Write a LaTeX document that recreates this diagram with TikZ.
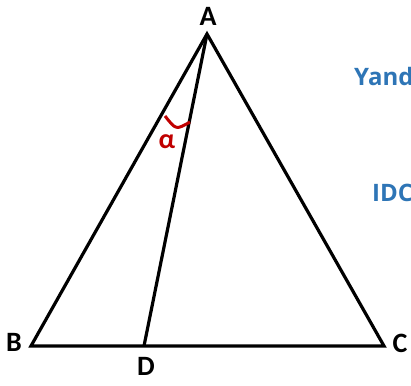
\documentclass[tikz,border=0pt]{standalone}
\usepackage{fontspec}
\setmainfont{Carlito}
\newfontfamily\wmfont{Open Sans}
\definecolor{arcred}{RGB}{192,0,0}
\definecolor{wmblue}{RGB}{46,117,182}
\begin{document}
\begin{tikzpicture}[x=1pt,y=1pt,
  edge/.style={line width=3.2pt,black,line join=miter},
  vlabel/.style={font=\fontsize{28}{30}\selectfont\bfseries,inner sep=0pt},
  wmark/.style={font=\wmfont\fontsize{24}{28}\selectfont\bfseries,text=wmblue,inner sep=0pt,anchor=base west}]
\useasboundingbox (0,0) rectangle (411,385);
\coordinate (A) at (207,351);
\coordinate (B) at (31,39);
\coordinate (C) at (384,39);
\coordinate (D) at (144,39);
\coordinate (arcL) at (165,269);
\coordinate (arcR) at (190,263);
\draw[edge] (A) -- (B) -- (C) -- cycle;
\draw[edge] (A) -- (D);
\draw[line width=3pt,arcred] (arcL) .. controls (176,255) .. (arcR);
\node[vlabel] (lA) at (208,369) {A};
\node[vlabel] (lB) at (14,43) {B};
\node[vlabel] (lC) at (400,42) {C};
\node[vlabel] (lD) at (146,19) {D};
\node[vlabel,text=arcred] (alpha) at (167,243) {α};
\node[wmark] (w1) at (354,299) {Yand};
\node[wmark] (w2) at (372,183) {IDC};
\end{tikzpicture}
\end{document}
